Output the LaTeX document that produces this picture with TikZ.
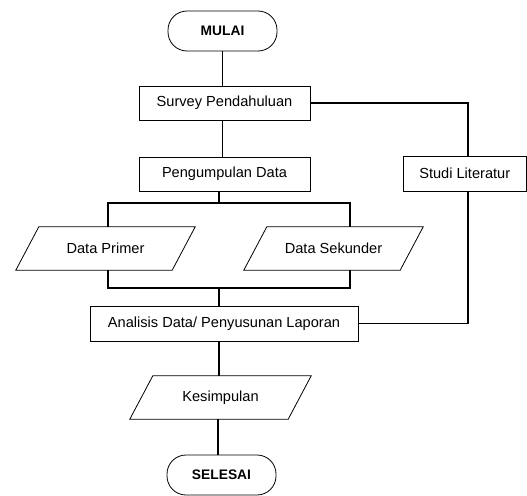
\documentclass[tikz,border=0pt]{standalone}
\usepackage{fontspec}
\setmainfont{Liberation Sans}
\begin{document}
\begin{tikzpicture}[x=1pt,y=-1pt,
 txt/.style={font=\fontsize{14.6}{17}\selectfont},
 box/.style={draw, line width=0.8pt, minimum height=34pt, inner sep=0pt, txt},
 term/.style={draw, line width=0.8pt, rounded corners=19pt, minimum width=109pt, minimum height=40pt, inner sep=0pt, font=\bfseries\fontsize{13.8}{16}\selectfont},
 io/.style={minimum height=43pt, inner sep=0pt, txt},
 ioline/.style={line width=0.8pt},
 link/.style={line width=1.5pt}]
\path[use as bounding box] (0,0) rectangle (527,495);
\node[term] (mulai) at (222.5,31) {MULAI};
\node[box, minimum width=171pt] (survey) at (224.5,103) {Survey Pendahuluan};
\node[box, minimum width=171pt] (kumpul) at (224.5,174) {Pengumpulan Data};
\node[box, minimum width=123pt, minimum height=35pt] (studi) at (464.75,173.5) {Studi Literatur};
\node[io, minimum width=156pt] (primer) at (105.5,248.5) {Data Primer};
\node[io, minimum width=156pt] (sekunder) at (333.5,248.5) {Data Sekunder};
\node[box, minimum width=268pt, minimum height=35pt] (analisis) at (224,323.5) {Analisis Data/ Penyusunan Laporan};
\node[io, minimum width=158pt] (simpul) at (220.5,397.5) {Kesimpulan};
\node[term] (selesai) at (221.5,475) {SELESAI};
\foreach \n in {primer,sekunder,simpul}{
  \draw[ioline] ([xshift=-11.5pt]\n.south west) -- ([xshift=-11.5pt]\n.south east)
    -- ([xshift=11.5pt]\n.north east) -- ([xshift=11.5pt]\n.north west) -- cycle;
}
\coordinate (j1) at (219,203);
\coordinate (j2) at (219,288);
\coordinate (pa) at (108,0);
\coordinate (sa) at (350,0);
\coordinate (rx) at (468,0);
\coordinate (lx) at (218,0);
\draw[link] (mulai.south) -- (survey.north -| mulai.south);
\draw[link] (survey.south -| mulai.south) -- (kumpul.north -| mulai.south);
\draw[link] (kumpul.south -| j1) -- (j1);
\draw[link] (primer.north -| pa) |- (j1) -| (sekunder.north -| sa);
\draw[link] (primer.south -| pa) |- (j2) -| (sekunder.south -| sa);
\draw[link] (j2) -- (analisis.north -| j2);
\draw[link] (survey.east) -| (studi.north -| rx);
\draw[link] (studi.south -| rx) |- (analisis.east);
\draw[link] (analisis.south -| j2) -- (simpul.north -| j2);
\draw[link] (simpul.south -| lx) -- (selesai.north -| lx);
\end{tikzpicture}
\end{document}
